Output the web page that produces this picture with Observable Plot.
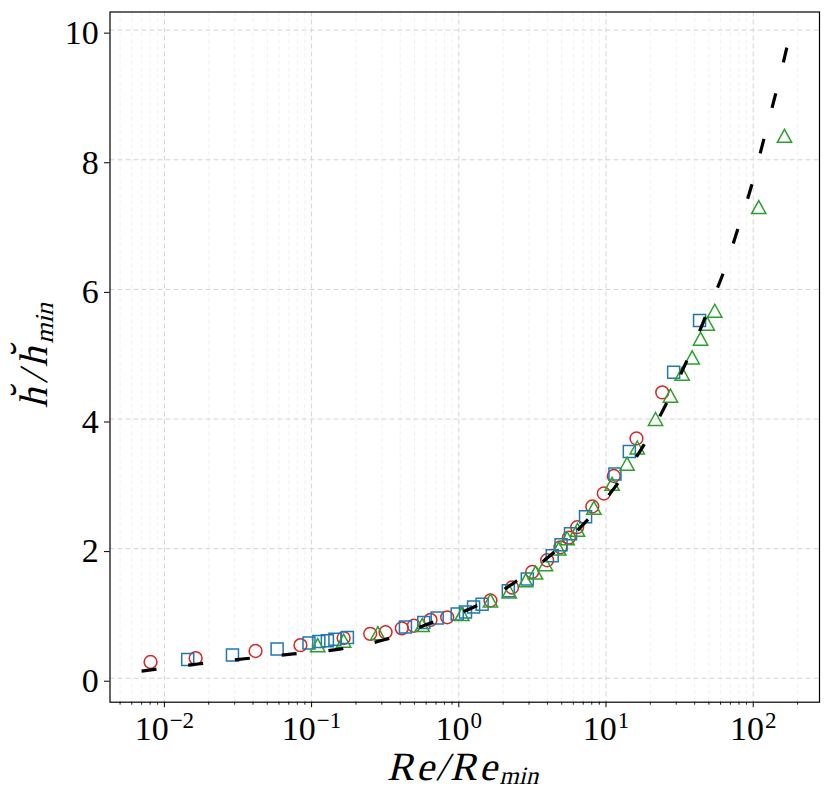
<!DOCTYPE html>
<html><head><meta charset="utf-8">
<script src="https://cdn.jsdelivr.net/npm/d3@7"></script>
<script src="https://cdn.jsdelivr.net/npm/@observablehq/plot@0.6"></script>
<style>
html,body{margin:0;padding:0;background:#fff;}
#chart svg{display:block;}
</style></head><body><div id="chart"></div>
<script>
// ---- data ----
const redX = [0.00805,0.0163,0.0416,0.084,0.165,0.25,0.318,0.41,0.495,0.642,0.834,1.64,2.30,3.15,3.98,4.9,5.6,6.37,8.07,9.66,11.3,16.1,24.1];
const redY = [0.25,0.31,0.42,0.51,0.62,0.685,0.71,0.77,0.81,0.90,0.94,1.20,1.40,1.64,1.82,2.02,2.17,2.33,2.65,2.85,3.12,3.70,4.41];

const blueX = [0.0144,0.029,0.0583,0.096,0.112,0.128,0.144,0.175,0.434,0.578,0.713,0.975,1.11,1.26,1.44,2.17,2.92,4.31,4.95,5.74,7.26,11.5,14.4,28.8,43.2];
const blueY = [0.29,0.36,0.45,0.545,0.565,0.58,0.60,0.63,0.79,0.86,0.93,0.99,1.02,1.10,1.14,1.35,1.53,1.89,2.06,2.23,2.49,3.15,3.50,4.72,5.52];

const greenX = [0.110,0.165,0.282,0.564,1.05,1.64,2.2,2.85,3.32,3.88,4.78,5.45,6.4,8.27,11.0,13.9,16.3,21.7,27.4,32.9,38.5,43.9,48.7,54.8,109,163];
const greenY = [0.51,0.58,0.695,0.82,0.99,1.20,1.34,1.51,1.63,1.76,2.0,2.16,2.29,2.63,3.0,3.31,3.56,4.0,4.36,4.70,4.95,5.24,5.47,5.67,7.27,8.37];

const lineX = [0.007,0.0168,0.035,0.075,0.155,0.32,0.657,1.3,2.47,4.47,7.6,12.06,18.1,26.4,36.4,48.2,63,79.4,98.9,119.4,144,172];
const lineY = [0.11,0.22,0.30,0.375,0.45,0.60,0.86,1.11,1.50,1.95,2.46,3.01,3.6,4.29,4.96,5.62,6.27,6.96,7.65,8.36,9.07,9.8];

const xTicks = [0.01,0.1,1,10,100];
const xTickExp = ["\u22122","\u22121","0","1","2"];
const yTicks = [0,2,4,6,8,10];
const yTickLabels = ["0","2","4","6","8","10"];
const xLabelMain = "Re/Re", xLabelSub = "min";
const yLabelMain = "h\u0306/h\u0306", yLabelSub = "min";

const FONT = "Liberation Serif";

// minor log ticks (2..9 in each decade inside the domain)
const xMinor = [];
for (const dec of [0.001,0.01,0.1,1,10,100]) for (let k = 2; k <= 9; k++) {
  const v = dec * k; if (v > 0.00427 && v < 282) xMinor.push(+v.toPrecision(3));
}

const toRows = (xs, ys) => xs.map((x, i) => ({x, y: ys[i]}));
const red = toRows(redX, redY), blue = toRows(blueX, blueY), green = toRows(greenX, greenY), fit = toRows(lineX, lineY);

const squareSym = {draw(ctx, size) { const r = Math.sqrt(size / Math.PI);
  ctx.moveTo(-r, -r); ctx.lineTo(r, -r); ctx.lineTo(r, r); ctx.lineTo(-r, r); ctx.closePath(); }};
const triSym = {draw(ctx, size) { const r = Math.sqrt(size / Math.PI);
  ctx.moveTo(0, -r); ctx.lineTo(1.1 * r, r); ctx.lineTo(-1.1 * r, r); ctx.closePath(); }};

const gridMajor = {stroke: "#d4d4d4", strokeOpacity: 1, strokeWidth: 1, strokeDasharray: "5,3"};
const gridMinor = {stroke: "#ececec", strokeOpacity: 1, strokeWidth: 0.8, strokeDasharray: "4,3"};

const plot = Plot.plot({
  width: 830, height: 803,
  marginLeft: 109.5, marginRight: 11, marginTop: 11.5, marginBottom: 101.3,
  x: {type: "log", domain: [0.00427, 282], label: null},
  y: {domain: [-0.37, 10.28], label: null},
  style: {fontFamily: FONT, color: "black", background: "white"},
  marks: [
    Plot.gridX(xMinor, gridMinor),
    Plot.gridX(xTicks, gridMajor),
    Plot.gridY(yTicks, gridMajor),
    Plot.dot(red, {x: "x", y: "y", symbol: "circle", r: 6.4, stroke: "#d62728", strokeWidth: 1.5, fill: "none"}),
    Plot.dot(blue, {x: "x", y: "y", symbol: squareSym, r: 6.0, stroke: "#1f77b4", strokeWidth: 1.5, fill: "none"}),
    Plot.dot(green, {x: "x", y: "y", symbol: triSym, r: 6.5, stroke: "#2ca02c", strokeWidth: 1.5, fill: "none"}),
    Plot.line(fit, {x: "x", y: "y", stroke: "black", strokeWidth: 3.2, strokeDasharray: "15,32", strokeLinecap: "butt", curve: "monotone-x"}),
    Plot.frame({stroke: "black", strokeWidth: 1.2}),
    Plot.axisX(xMinor, {tickSize: 3, tickFormat: () => "", strokeWidth: 0.9}),
    Plot.axisX(xTicks, {tickSize: 5.5, tickPadding: 8, fontSize: 34, fontFamily: FONT, strokeWidth: 1,
      tickFormat: d => "10^" + xTickExp[xTicks.indexOf(d)]}),
    Plot.axisY(yTicks, {tickSize: 5.5, tickPadding: 5.7, fontSize: 34, fontFamily: FONT, strokeWidth: 1, dy: 3,
      tickFormat: d => yTickLabels[yTicks.indexOf(d)]})
  ]
});

document.getElementById("chart").appendChild(plot);

// superscript exponents in x tick labels
const svg = d3.select(plot);
svg.selectAll('g[aria-label="x-axis tick label"] text').each(function() {
  const t = this.textContent;
  if (!t.includes("^")) return;
  const [base, exp] = t.split("^");
  const sel = d3.select(this).text("");
  sel.append("tspan").text(base);
  sel.append("tspan").attr("font-size", 23).attr("dy", -12).attr("dx", 1).text(exp);
});

// axis titles (slanted serif, like math italic)
const xl = svg.append("text").attr("transform", "translate(463,779.5) skewX(-14)").attr("text-anchor", "middle")
  .attr("font-family", FONT).attr("fill", "black");
xl.append("tspan").attr("font-size", 40).attr("letter-spacing", 2.5).text(xLabelMain);
xl.append("tspan").attr("font-size", 25).attr("dy", 4).attr("dx", 1).text(xLabelSub);

const yl = svg.append("text").attr("transform", "translate(47,355) rotate(-90) skewX(-14)").attr("text-anchor", "middle")
  .attr("font-family", FONT).attr("fill", "black");
yl.append("tspan").attr("font-size", 40).attr("letter-spacing", 5).text(yLabelMain);
yl.append("tspan").attr("font-size", 26).attr("dy", 6).text(yLabelSub);
</script>
</body></html>
